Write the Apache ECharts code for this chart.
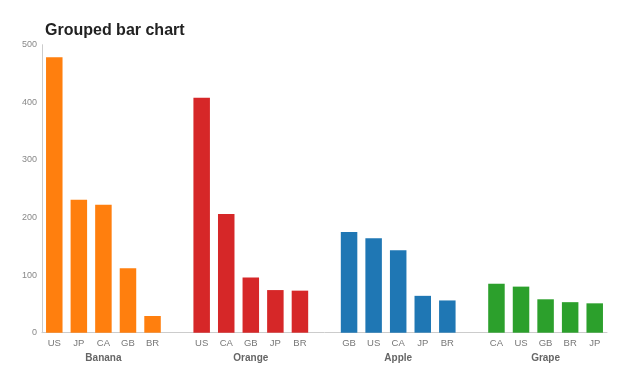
<!DOCTYPE html>
<html>
<head>
<meta charset="utf-8">
<script src="https://cdn.jsdelivr.net/npm/echarts@6/dist/echarts.min.js"></script>
<style>html,body{margin:0;padding:0;background:#fff}#c{width:630px;height:380px}</style>
</head>
<body>
<div id="c"></div>
<script>
const title = 'Grouped bar chart';
const groups = ['Banana', 'Orange', 'Apple', 'Grape'];
const countries = [
  ['US', 'JP', 'CA', 'GB', 'BR'],
  ['US', 'CA', 'GB', 'JP', 'BR'],
  ['GB', 'US', 'CA', 'JP', 'BR'],
  ['CA', 'US', 'GB', 'BR', 'JP']
];
const values = [
  [478, 231, 222, 112, 29],
  [408, 206, 96, 74, 73],
  [175, 164, 143, 64, 56],
  [85, 80, 58, 53, 51]
];
const colors = ['#ff7f0e', '#d62728', '#1f77b4', '#2ca02c'];
const yTicks = [0, 100, 200, 300, 400, 500];

// Build flat category list with a blank slot between groups
const cats = [], groupCats = [], seriesData = groups.map(() => []);
groups.forEach((g, gi) => {
  if (gi > 0) {
    cats.push('');
    groupCats.push('');
    seriesData.forEach(d => d.push('-'));
  }
  countries[gi].forEach((c, ci) => {
    cats.push(c);
    groupCats.push(ci === 2 ? g : '');
    seriesData.forEach((d, si) => d.push(si === gi ? values[gi][ci] : '-'));
  });
});

const chart = echarts.init(document.getElementById('c'));
chart.setOption({
  animation: false,
  backgroundColor: '#fff',
  title: {
    text: title, left: 40, top: 18,
    textStyle: { fontFamily: 'Liberation Sans', fontWeight: 'bold', fontSize: 16, color: '#222' }
  },
  grid: { left: 42, right: 23, top: 44.7, bottom: 47.3 },
  xAxis: [
    {
      type: 'category', data: cats,
      axisLine: { lineStyle: { color: '#ccc' } },
      axisTick: { show: false },
      axisLabel: { color: '#777', fontSize: 9.5, fontFamily: 'Liberation Sans', margin: 6, interval: 0 }
    },
    {
      type: 'category', data: groupCats, position: 'bottom', offset: 15,
      axisLine: { show: false }, axisTick: { show: false },
      axisLabel: { color: '#666', fontSize: 10, fontWeight: 'bold', fontFamily: 'Liberation Sans', margin: 6, interval: 0 }
    }
  ],
  yAxis: {
    type: 'value', min: yTicks[0], max: yTicks[yTicks.length - 1], interval: 100,
    axisLine: { show: true, lineStyle: { color: '#ccc' } },
    axisTick: { show: false },
    splitLine: { show: false },
    axisLabel: { color: '#888', fontSize: 9, fontFamily: 'Liberation Sans', margin: 5 }
  },
  series: groups.map((g, i) => ({
    name: g, type: 'bar', xAxisIndex: 0,
    data: seriesData[i], barWidth: 16.5, barGap: '-100%',
    itemStyle: { color: colors[i] }
  }))
});
</script>
</body>
</html>
